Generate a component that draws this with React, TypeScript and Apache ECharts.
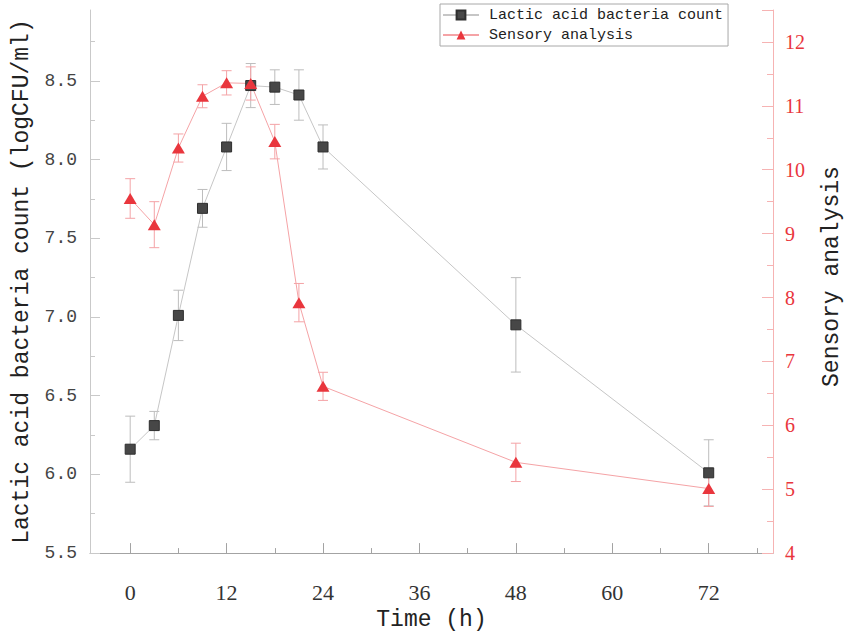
import React, { useEffect, useRef } from "react";
import * as echarts from "echarts";

const timeH = [0, 3, 6, 9, 12, 15, 18, 21, 24, 48, 72];
const labCount = [6.16, 6.31, 7.01, 7.69, 8.08, 8.47, 8.46, 8.41, 8.08, 6.95, 6.01];
const labErr = [0.21, 0.09, 0.16, 0.12, 0.15, 0.14, 0.11, 0.16, 0.14, 0.3, 0.21];
const sensory = [9.55, 9.14, 10.34, 11.15, 11.36, 11.35, 10.44, 7.92, 6.61, 5.42, 5.01];
const sensoryErr = [0.31, 0.36, 0.22, 0.18, 0.19, 0.26, 0.27, 0.3, 0.22, 0.3, 0.28];

const xTicks = [0, 12, 24, 36, 48, 60, 72];
const xMinorTicks = [6, 18, 30, 42, 54, 66, 78];
const leftTicks = [5.5, 6.0, 6.5, 7.0, 7.5, 8.0, 8.5];
const leftMinorTicks = [5.75, 6.25, 6.75, 7.25, 7.75, 8.25, 8.75];
const rightTicks = [4, 5, 6, 7, 8, 9, 10, 11, 12];
const rightTickMarks = [4, 5, 6, 7, 8, 9, 10, 11, 12, 12.5];
const rightMinorTicks = [4.5, 5.5, 6.5, 7.5, 8.5, 9.5, 10.5, 11.5];

const LAB_NAME = "Lactic acid bacteria count";
const SENS_NAME = "Sensory analysis";

const MONO = "'Liberation Mono', 'DejaVu Sans Mono', monospace";
const SERIF = "'Liberation Serif', 'DejaVu Serif', serif";

const X_MIN = -5;
const X_MAX = 80;
const L_MIN = 5.5;
const L_MAX = 8.95;
const R_MIN = 4;
const R_MAX = 12.5;

function errorBars(color: string, yAxisIndex: number, vals: number[], errs: number[], name: string) {
  return {
    type: "custom",
    name,
    xAxisIndex: 0,
    yAxisIndex,
    silent: true,
    encode: { x: 0, y: [1, 2] },
    data: timeH.map((t, i) => [t, vals[i] - errs[i], vals[i] + errs[i]]),
    renderItem: (params: any, api: any) => {
      const x = api.value(0);
      const lo = api.value(1);
      const hi = api.value(2);
      const pHi = api.coord([x, hi]);
      const pLo = api.coord([x, lo]);
      const w = 5;
      const style = { stroke: color, lineWidth: 1 };
      return {
        type: "group",
        children: [
          { type: "line", shape: { x1: pHi[0], y1: pHi[1], x2: pLo[0], y2: pLo[1] }, style },
          { type: "line", shape: { x1: pHi[0] - w, y1: pHi[1], x2: pHi[0] + w, y2: pHi[1] }, style },
          { type: "line", shape: { x1: pLo[0] - w, y1: pLo[1], x2: pLo[0] + w, y2: pLo[1] }, style },
        ],
      };
    },
  };
}

export default function App() {
  const ref = useRef<HTMLDivElement>(null);

  useEffect(() => {
    if (!ref.current) return;
    const chart = echarts.init(ref.current, undefined, { renderer: "svg" });

    const grayAxis = "#c9c9c9";
    const bottomAxis = "#a3a3a3";
    const pinkAxis = "#f6b3b3";
    const red = "#e9363d";

    const option: any = {
      animation: false,
      backgroundColor: "#ffffff",
      grid: { left: 90, right: 74, top: 10, bottom: 78, containLabel: false },
      legend: {
        data: [LAB_NAME, SENS_NAME],
        orient: "vertical",
        left: 440,
        top: 4,
        padding: [2, 5, 2, 2],
        itemGap: 2,
        itemWidth: 36,
        itemHeight: 11,
        borderColor: "#a8a8a8",
        borderWidth: 1,
        borderRadius: 0,
        textStyle: {
          fontFamily: MONO,
          fontSize: 15,
          color: "#222",
          lineHeight: 18,
          padding: [0, 0, 0, 5],
        },
      },
      xAxis: [
        {
          type: "value",
          min: X_MIN,
          max: X_MAX,
          position: "bottom",
          name: "Time (h)",
          nameLocation: "middle",
          nameGap: 48,
          nameTextStyle: { fontFamily: MONO, fontSize: 23, color: "#222" },
          axisLine: { show: true, onZero: false, lineStyle: { color: bottomAxis, width: 1 } },
          axisTick: { show: true, inside: true, length: 10, customValues: xTicks, lineStyle: { color: bottomAxis } },
          axisLabel: {
            customValues: xTicks,
            margin: 28,
            fontFamily: SERIF,
            fontSize: 22,
            color: "#333",
          },
          splitLine: { show: false },
        },
        {
          type: "value",
          min: X_MIN,
          max: X_MAX,
          position: "bottom",
          axisLine: { show: false, onZero: false },
          axisTick: { show: true, inside: true, length: 5, customValues: xMinorTicks, lineStyle: { color: bottomAxis } },
          axisLabel: { show: false },
          splitLine: { show: false },
        },
      ],
      yAxis: [
        {
          type: "value",
          min: L_MIN,
          max: L_MAX,
          position: "left",
          name: LAB_NAME + " (logCFU/ml)",
          nameLocation: "middle",
          nameGap: 56,
          nameTextStyle: { fontFamily: MONO, fontSize: 23, color: "#222" },
          axisLine: { show: true, onZero: false, lineStyle: { color: grayAxis, width: 1 } },
          axisTick: { show: true, inside: true, length: 10, customValues: leftTicks, lineStyle: { color: grayAxis } },
          axisLabel: {
            customValues: leftTicks,
            formatter: (v: number) => v.toFixed(1),
            margin: 13,
            fontFamily: MONO,
            fontSize: 18,
            color: "#444",
          },
          splitLine: { show: false },
        },
        {
          type: "value",
          min: R_MIN,
          max: R_MAX,
          position: "right",
          name: SENS_NAME,
          nameLocation: "middle",
          nameGap: 47,
          nameTextStyle: { fontFamily: MONO, fontSize: 23, color: "#222", padding: [0, 0, 0, 10] },
          axisLine: { show: true, onZero: false, lineStyle: { color: pinkAxis, width: 1 } },
          axisTick: { show: true, inside: true, length: 11, customValues: rightTickMarks, lineStyle: { color: pinkAxis } },
          axisLabel: {
            customValues: rightTicks,
            margin: 12,
            fontFamily: SERIF,
            fontSize: 20,
            color: red,
          },
          splitLine: { show: false },
        },
        {
          type: "value",
          min: L_MIN,
          max: L_MAX,
          position: "left",
          axisLine: { show: false, onZero: false },
          axisTick: { show: true, inside: true, length: 5, customValues: leftMinorTicks, lineStyle: { color: grayAxis } },
          axisLabel: { show: false },
          splitLine: { show: false },
        },
        {
          type: "value",
          min: R_MIN,
          max: R_MAX,
          position: "right",
          axisLine: { show: false, onZero: false },
          axisTick: { show: true, inside: true, length: 6, customValues: rightMinorTicks, lineStyle: { color: pinkAxis } },
          axisLabel: { show: false },
          splitLine: { show: false },
        },
      ],
      series: [
        errorBars("#bdbdbd", 0, labCount, labErr, "lab-err"),
        {
          type: "line",
          name: LAB_NAME,
          xAxisIndex: 0,
          yAxisIndex: 0,
          data: timeH.map((t, i) => [t, labCount[i]]),
          symbol: "rect",
          symbolSize: 10,
          showAllSymbol: true,
          lineStyle: { color: "#c6c6c6", width: 1 },
          itemStyle: { color: "#474747", borderColor: "#2e2e2e", borderWidth: 1 },
          emphasis: { disabled: true },
        },
        errorBars("#f4a3a6", 1, sensory, sensoryErr, "sens-err"),
        {
          type: "line",
          name: SENS_NAME,
          xAxisIndex: 0,
          yAxisIndex: 1,
          data: timeH.map((t, i) => [t, sensory[i]]),
          symbol: "triangle",
          symbolSize: [13, 11],
          showAllSymbol: true,
          lineStyle: { color: "#f5a3a6", width: 1 },
          itemStyle: { color: red, borderWidth: 0 },
          emphasis: { disabled: true },
        },
      ],
    };

    chart.setOption(option);
    return () => {
      chart.dispose();
    };
  }, []);

  return (
    <div
      ref={ref}
      style={{ position: "fixed", left: 0, top: 0, width: 851, height: 636, background: "#fff" }}
    />
  );
}
